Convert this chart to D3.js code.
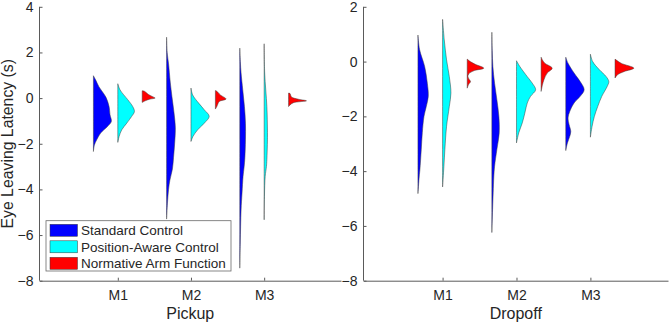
<!DOCTYPE html>
<html>
<head>
<meta charset="utf-8">
<script src="https://cdn.jsdelivr.net/npm/d3@7"></script>
<style>
  body { margin: 0; background: #fff; }
  svg { display: block; font-family: "Liberation Sans", Arial, Helvetica, sans-serif; }
  .axis text { fill: #262626; font-size: 14px; }
  .axis path, .axis line { stroke: #5a5a5a; }
</style>
</head>
<body>
<div id="chart"></div>
<script>
// categories and groups
const categories = ["M1", "M2", "M3"];
const groups = ["Standard Control", "Position-Aware Control", "Normative Arm Function"];
const groupColors = ["#0000ff", "#00ffff", "#ff0000"];

const pickupYTicks = [-8, -6, -4, -2, 0, 2, 4];
const dropoffYTicks = [-8, -6, -4, -2, 0, 2];

// density profiles: [latency (s), half width in category units]
const pickupStandard = [
  [[0.98, 0], [0.8, 0.03], [0.5, 0.075], [0.2, 0.14], [0, 0.177], [-0.37, 0.214], [-0.73, 0.227], [-1.03, 0.245], [-1.25, 0.19], [-1.53, 0.099], [-1.83, 0.045], [-2.05, 0.014], [-2.34, 0]],
  [[2.67, 0], [2.0, 0.008], [1.5, 0.027], [0.7, 0.05], [0.07, 0.073], [-0.6, 0.1], [-1.3, 0.12], [-2.0, 0.11], [-2.6, 0.095], [-3.1, 0.08], [-3.6, 0.045], [-4.0, 0.027], [-4.6, 0.012], [-5.3, 0]],
  [[2.19, 0], [1.6, 0.008], [1.1, 0.018], [0.36, 0.041], [-0.37, 0.064], [-1.1, 0.078], [-1.83, 0.078], [-2.6, 0.07], [-3.0, 0.06], [-3.43, 0.045], [-4.16, 0.031], [-4.9, 0.018], [-6.35, 0.007], [-7.45, 0]]
];
const pickupPosition = [
  [[0.63, 0], [0.36, 0.031], [-0.07, 0.136], [-0.37, 0.204], [-0.59, 0.227], [-0.8, 0.19], [-1.1, 0.122], [-1.39, 0.054], [-1.68, 0.018], [-1.94, 0]],
  [[0.44, 0], [0.14, 0.023], [-0.22, 0.105], [-0.51, 0.181], [-0.8, 0.249], [-1.1, 0.181], [-1.39, 0.091], [-1.68, 0.027], [-1.9, 0]],
  [[2.38, 0], [1.1, 0.007], [-0.37, 0.037], [-1.4, 0.045], [-1.83, 0.045], [-2.7, 0.037], [-3.0, 0.031], [-3.43, 0.014], [-4.3, 0.004], [-5.33, 0]]
];
const pickupNormative = [
  [[0.32, 0], [0.3, 0.03], [0.15, 0.09], [0.02, 0.17], [0, 0.177], [-0.05, 0.1], [-0.12, 0.04], [-0.19, 0]],
  [[0.33, 0], [0.3, 0.02], [0.14, 0.068], [-0.04, 0.146], [-0.15, 0.054], [-0.37, 0.02], [-0.48, 0]],
  [[0.22, 0], [0.2, 0.02], [0.05, 0.04], [-0.05, 0.136], [-0.12, 0.245], [-0.2, 0.068], [-0.3, 0.02], [-0.37, 0]]
];

const dropoffStandard = [
  [[0.97, 0], [0.43, 0.023], [-0.18, 0.091], [-0.79, 0.127], [-1.27, 0.14], [-1.64, 0.113], [-2.0, 0.082], [-2.6, 0.059], [-3.21, 0.045], [-3.94, 0.027], [-4.18, 0.018], [-4.82, 0]],
  [[1.07, 0], [0.4, 0.005], [-0.18, 0.014], [-0.79, 0.037], [-1.39, 0.068], [-2.0, 0.095], [-2.6, 0.1], [-3.21, 0.068], [-3.82, 0.037], [-4.18, 0.027], [-4.79, 0.018], [-5.4, 0.01], [-6.24, 0]],
  [[0.16, 0], [-0.06, 0.031], [-0.42, 0.113], [-0.73, 0.195], [-1.03, 0.249], [-1.27, 0.195], [-1.51, 0.113], [-1.82, 0.054], [-2.06, 0.031], [-2.3, 0.045], [-2.55, 0.068], [-2.73, 0.054], [-2.97, 0.023], [-3.25, 0]]
];
const dropoffPosition = [
  [[1.54, 0], [0.79, 0.023], [0.06, 0.054], [-0.55, 0.091], [-1.15, 0.113], [-1.64, 0.091], [-2.36, 0.054], [-3.21, 0.031], [-3.82, 0.018], [-4.58, 0]],
  [[0.03, 0], [-0.18, 0.045], [-0.55, 0.146], [-0.79, 0.214], [-1.03, 0.259], [-1.27, 0.19], [-1.51, 0.146], [-1.88, 0.113], [-2.24, 0.078], [-2.6, 0.031], [-2.97, 0]],
  [[0.27, 0], [0, 0.031], [-0.3, 0.122], [-0.55, 0.214], [-0.73, 0.249], [-0.91, 0.227], [-1.27, 0.154], [-1.64, 0.099], [-2.0, 0.054], [-2.36, 0.023], [-2.76, 0]]
];
const dropoffNormative = [
  [[0.09, 0], [0.0, 0.041], [-0.1, 0.109], [-0.24, 0.224], [-0.33, 0.095], [-0.45, 0.02], [-0.55, 0.01], [-0.65, 0.027], [-0.73, 0.045], [-0.83, 0.02], [-0.97, 0]],
  [[0.16, 0], [0.05, 0.02], [-0.06, 0.05], [-0.24, 0.15], [-0.42, 0.082], [-0.67, 0.037], [-0.85, 0.018], [-1.09, 0]],
  [[0.09, 0], [-0.06, 0.082], [-0.24, 0.254], [-0.36, 0.127], [-0.48, 0.034], [-0.6, 0]]
];

const W = 669, H = 324;
const groupOffsets = [-1 / 3, 0, 1 / 3];

const panels = [
  { label: "Pickup", left: 39.5, right: 341, yTicks: pickupYTicks,
    series: [pickupStandard, pickupPosition, pickupNormative] },
  { label: "Dropoff", left: 363.5, right: 668, yTicks: dropoffYTicks,
    series: [dropoffStandard, dropoffPosition, dropoffNormative] }
];

const svg = d3.select("#chart").append("svg")
  .attr("width", W)
  .attr("height", H);

const yTop = 6.8, yBottom = 280.7;

panels.forEach((p, pi) => {
  const x = d3.scaleLinear().domain([-0.07, 4.05]).range([p.left, p.right]);
  const y = d3.scaleLinear().domain(d3.extent(p.yTicks)).range([yBottom, yTop]);

  const g = svg.append("g");

  // violins (half, opening to the right)
  p.series.forEach((ser, gi) => {
    ser.forEach((profile, ci) => {
      const base = ci + 1 + groupOffsets[gi];
      const area = d3.area()
        .curve(d3.curveCatmullRom.alpha(0.5))
        .y(d => y(d[0]))
        .x0(x(base))
        .x1(d => x(base + d[1]));
      g.append("path")
        .datum(profile)
        .attr("d", area)
        .attr("fill", groupColors[gi])
        .attr("stroke", "#3a3a3a")
        .attr("stroke-width", 0.5);
    });
  });

  // axes
  g.append("g")
    .attr("class", "axis")
    .attr("transform", `translate(${p.left},0)`)
    .call(d3.axisLeft(y).tickValues(p.yTicks).tickSizeInner(-3).tickSizeOuter(0).tickPadding(6))
    .call(a => a.select(".domain").attr("d", `M0,${yBottom}V${yTop}`));

  g.append("g")
    .attr("class", "axis")
    .attr("transform", `translate(0,${yBottom})`)
    .call(d3.axisBottom(x).tickValues([1, 2, 3]).tickFormat(d => categories[d - 1])
      .tickSizeInner(-3).tickSizeOuter(0).tickPadding(9));

  // x label
  g.append("text")
    .attr("x", (p.left + p.right) / 2)
    .attr("y", 318.5)
    .attr("text-anchor", "middle")
    .style("font-size", "16px")
    .style("fill", "#262626")
    .text(p.label);

  if (pi === 0) {
    g.append("text")
      .attr("transform", `translate(13,${(yTop + yBottom) / 2}) rotate(-90)`)
      .attr("text-anchor", "middle")
      .style("font-size", "15.8px")
      .style("fill", "#262626")
      .text("Eye Leaving Latency (s)");

    // legend
    const lg = g.append("g").attr("transform", "translate(46,220.7)");
    lg.append("rect")
      .attr("width", 185)
      .attr("height", 50.3)
      .attr("fill", "#fff")
      .attr("stroke", "#6a6a6a")
      .attr("stroke-width", 0.8);
    groups.forEach((name, i) => {
      const row = lg.append("g").attr("transform", `translate(4,${3.6 + i * 16.5})`);
      row.append("rect")
        .attr("width", 27.5)
        .attr("height", 12)
        .attr("fill", groupColors[i])
        .attr("stroke", "#3a3a3a")
        .attr("stroke-width", 0.5);
      row.append("text")
        .attr("x", 31)
        .attr("y", 6)
        .attr("dy", "0.36em")
        .style("font-size", "13.5px")
        .style("fill", "#262626")
        .text(name);
    });
  }
});
</script>
</body>
</html>
